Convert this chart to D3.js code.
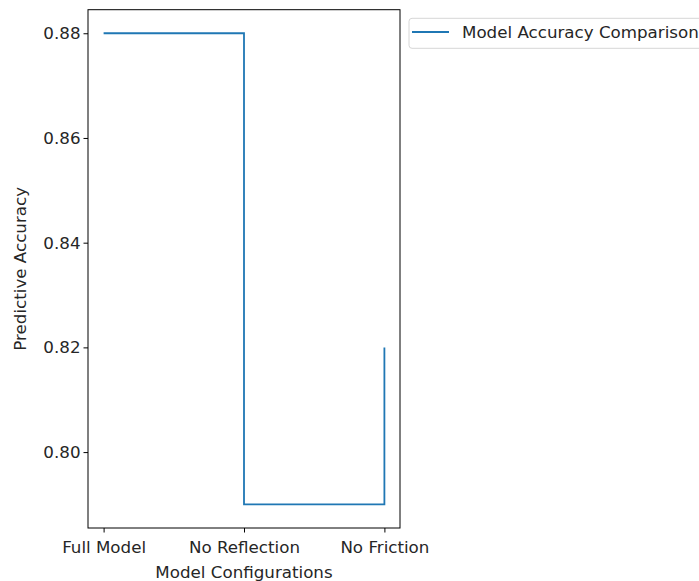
<!DOCTYPE html>
<html><head><meta charset="utf-8">
<script src="https://cdn.jsdelivr.net/npm/d3@7"></script>
<style>body{margin:0;background:#fff;overflow:hidden}svg{display:block}text{font-family:"DejaVu Sans",sans-serif;fill:#262626}</style>
</head><body>
<script>
const categories = ["Full Model", "No Reflection", "No Friction"];
const accuracy = [0.88, 0.79, 0.82];
const yTicks = [0.80, 0.82, 0.84, 0.86, 0.88];
const seriesName = "Model Accuracy Comparison";

const W = 699, H = 581;
const L = 88, R = 400, T = 9.7, B = 528;
const svg = d3.select("body").append("svg").attr("width", W).attr("height", H);

const pad = 0.05;
const xp = 2 * pad / (1 - 2 * pad);
const x = d3.scaleLinear().domain([-xp, 2 + xp]).range([L, R]);
const yr = d3.max(accuracy) - d3.min(accuracy);
const y = d3.scaleLinear().domain([d3.min(accuracy) - yr*pad, d3.max(accuracy) + yr*pad]).range([B, T]);

const data = categories.map((c, i) => ({i, v: accuracy[i]}));
const line = d3.line().x(d => x(d.i)).y(d => y(d.v)).curve(d3.curveStepAfter);

svg.append("path").datum(data).attr("d", line)
  .attr("fill", "none").attr("stroke", "#1f77b4").attr("stroke-width", 1.8);

const fs = 16.7;
const xAxis = svg.append("g").attr("transform", `translate(0,${B})`)
  .call(d3.axisBottom(x).tickValues(d3.range(categories.length)).tickFormat(i => categories[i]).tickSizeOuter(0).tickSize(4.5).tickPadding(3));
const yAxis = svg.append("g").attr("transform", `translate(${L},0)`)
  .call(d3.axisLeft(y).tickValues(yTicks).tickFormat(d3.format(".2f")).tickSizeOuter(0).tickSize(4.5).tickPadding(3));
[xAxis, yAxis].forEach(g => {
  g.select(".domain").remove();
  g.selectAll(".tick line").attr("stroke", "#000").attr("stroke-width", 1);
  g.selectAll(".tick text").attr("font-size", fs).attr("font-family", "DejaVu Sans").attr("fill", "#262626");
});
xAxis.selectAll(".tick text").attr("dy", null).attr("y", 25);

svg.append("rect").attr("x", L).attr("y", T).attr("width", R - L).attr("height", B - T)
  .attr("fill", "none").attr("stroke", "#000").attr("stroke-width", 1);

svg.append("text").attr("x", (L + R) / 2).attr("y", 578).attr("text-anchor", "middle")
  .attr("font-size", fs).text("Model Configurations");
svg.append("text").attr("transform", `translate(26,${(T + B) / 2}) rotate(-90)`).attr("text-anchor", "middle")
  .attr("font-size", fs).text("Predictive Accuracy");

const lg = svg.append("g");
lg.append("rect").attr("x", 409).attr("y", 18.3).attr("width", 320).attr("height", 30).attr("rx", 3)
  .attr("fill", "#fff").attr("stroke", "#d6d6d6").attr("stroke-width", 1);
lg.append("line").attr("x1", 412).attr("x2", 449).attr("y1", 32).attr("y2", 32)
  .attr("stroke", "#1f77b4").attr("stroke-width", 1.8);
lg.append("text").attr("x", 462).attr("y", 38).attr("font-size", fs).text(seriesName);
</script>
</body></html>
